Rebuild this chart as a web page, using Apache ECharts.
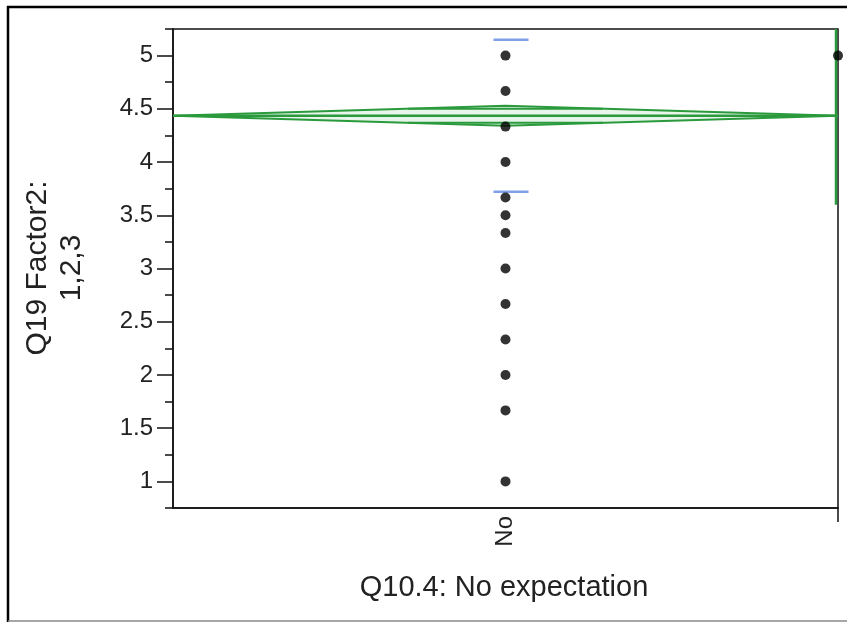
<!DOCTYPE html>
<html>
<head>
<meta charset="utf-8">
<script src="https://cdn.jsdelivr.net/npm/echarts@6/dist/echarts.min.js"></script>
<style>
html,body{margin:0;padding:0;background:#fff;}
#chart{width:847px;height:623px;}
</style>
</head>
<body>
<div id="chart"></div>
<script>
// ---- data ----
const categories = ['No', ''];
const noValues = [5, 4.667, 4.333, 4, 3.667, 3.5, 3.333, 3, 2.667, 2.333, 2, 1.667, 1];
const otherValues = [5];
const groupMeans = [4.435, 5];
const groupCILower = [4.341, 3.6];
const groupCIUpper = [4.529, 6.4];
const groupStdDev = [0.715, null];
const yTicks = [1, 1.5, 2, 2.5, 3, 3.5, 4, 4.5, 5];
const yMinorTicks = [0.75, 1.25, 1.75, 2.25, 2.75, 3.25, 3.75, 4.25, 4.75, 5.25];
const yTitle = 'Q19 Factor2:\n1,2,3';
const xTitle = 'Q10.4: No expectation';

// group layout on a 0..1 x scale: "No" spans the whole width, the second group sits at the right edge
const groupSpans = [[0, 1], [1, 1]];

const FONT = '"Liberation Sans", Arial, sans-serif';
const TXT = '#222';
const GREEN = '#2a9a3c';

const chart = echarts.init(document.getElementById('chart'));

const diamondData = groupMeans.map((m, i) => [groupSpans[i][0], groupSpans[i][1], m, groupCILower[i], groupCIUpper[i], i]);

const option = {
  animation: false,
  backgroundColor: '#fff',
  grid: {left: 173, top: 29, right: 9, bottom: 115, show: true, borderColor: '#111', borderWidth: 1.5, containLabel: false},
  xAxis: {
    type: 'value', min: 0, max: 1,
    splitLine: {show: false},
    axisLine: {show: true, lineStyle: {color: '#111', width: 1.5}},
    axisTick: {show: true, customValues: [1], length: 14, lineStyle: {color: '#111', width: 1.5}},
    axisLabel: {show: true, customValues: [0.5], rotate: 90, margin: 8, fontSize: 24, color: TXT, fontFamily: FONT,
      formatter: v => (Math.abs(v - 0.5) < 1e-6 ? categories[0] : '')}
  },
  yAxis: [{
    type: 'value', min: 0.75, max: 5.25,
    splitLine: {show: false},
    axisLine: {show: true, lineStyle: {color: '#111', width: 1.5}},
    axisTick: {show: true, customValues: yTicks, length: 16, lineStyle: {color: '#111', width: 1.5}},
    axisLabel: {show: true, customValues: yTicks, margin: 20, fontSize: 24, color: TXT, fontFamily: FONT,
      formatter: v => String(v)}
  }, {
    type: 'value', min: 0.75, max: 5.25, position: 'left',
    splitLine: {show: false},
    axisLine: {show: false},
    axisTick: {show: true, customValues: yMinorTicks, length: 8, lineStyle: {color: '#111', width: 1.5}},
    axisLabel: {show: false}
  }],
  graphic: [
    {type: 'line', shape: {x1: 8, y1: 6, x2: 8, y2: 622}, style: {stroke: '#000', lineWidth: 2.5}},
    {type: 'line', shape: {x1: 7, y1: 7, x2: 847, y2: 7}, style: {stroke: '#000', lineWidth: 2.5}},
    {type: 'line', shape: {x1: 8, y1: 621, x2: 847, y2: 621}, style: {stroke: '#888', lineWidth: 1.5}},
    {type: 'text', x: 55, y: 268, rotation: Math.PI / 2,
      style: {text: yTitle, fontSize: 30, lineHeight: 34, fontFamily: FONT, fill: TXT, align: 'center', verticalAlign: 'middle'}},
    {type: 'text', x: 504, y: 588,
      style: {text: xTitle, fontSize: 29, fontFamily: FONT, fill: TXT, align: 'center', verticalAlign: 'middle'}}
  ],
  series: [
    {
      type: 'custom',
      clip: true,
      data: diamondData,
      z: 2,
      renderItem: function (params, api) {
        const x0 = api.value(0), x1 = api.value(1), m = api.value(2), lo = api.value(3), hi = api.value(4);
        const xc = (x0 + x1) / 2;
        const pL = api.coord([x0, m]), pR = api.coord([x1, m]);
        const pT = api.coord([xc, hi]), pB = api.coord([xc, lo]);
        const children = [];
        if (Math.abs(pR[0] - pL[0]) < 2) {
          const x = pL[0] - 2;
          children.push({type: 'line', shape: {x1: x, y1: pT[1], x2: x, y2: pB[1]}, style: {stroke: GREEN, lineWidth: 2.5}});
          return {type: 'group', children: children};
        }
        children.push({type: 'polygon', shape: {points: [pL, pT, pR, pB]},
          style: {fill: 'rgba(60,170,80,0.12)', stroke: GREEN, lineWidth: 2}});
        children.push({type: 'line', shape: {x1: pL[0], y1: pL[1], x2: pR[0], y2: pR[1]}, style: {stroke: GREEN, lineWidth: 2.5}});
        // overlap marks at mean +/- half-CI/sqrt(2), spanning between the diamond edges
        const k = 1 / Math.SQRT2;
        const xa = x0 + (xc - x0) * k, xb = x1 - (x1 - xc) * k;
        [m + (hi - m) * k, m - (m - lo) * k].forEach(yv => {
          const a = api.coord([xa, yv]), b = api.coord([xb, yv]);
          children.push({type: 'line', shape: {x1: a[0], y1: a[1], x2: b[0], y2: b[1]}, style: {stroke: GREEN, lineWidth: 2}});
        });
        return {type: 'group', children: children};
      }
    },
    {
      type: 'custom',
      data: groupMeans.map((m, i) => [ (groupSpans[i][0] + groupSpans[i][1]) / 2, m, groupStdDev[i] ]).filter(d => d[2] != null),
      z: 3,
      renderItem: function (params, api) {
        const xc = api.value(0), m = api.value(1), sd = api.value(2);
        const up = api.coord([xc, m + sd]), dn = api.coord([xc, m - sd]);
        const st = {stroke: '#7fa0e8', lineWidth: 2.5};
        return {type: 'group', children: [
          {type: 'line', shape: {x1: up[0] - 12, y1: up[1], x2: up[0] + 23, y2: up[1]}, style: st},
          {type: 'line', shape: {x1: dn[0] - 12, y1: dn[1], x2: dn[0] + 23, y2: dn[1]}, style: st}
        ]};
      }
    },
    {
      type: 'scatter',
      z: 4,
      symbol: 'circle',
      symbolSize: 10,
      itemStyle: {color: '#000'},
      data: noValues.map(v => [(groupSpans[0][0] + groupSpans[0][1]) / 2, v])
        .concat(otherValues.map(v => [groupSpans[1][0], v]))
    }
  ]
};
chart.setOption(option);
</script>
</body>
</html>
